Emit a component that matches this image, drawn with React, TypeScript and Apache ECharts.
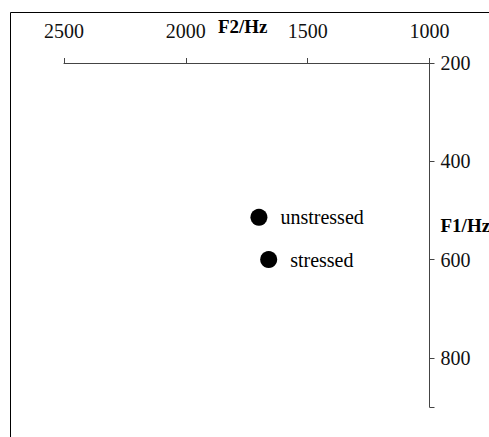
import React, { useEffect, useRef } from "react";
import * as echarts from "echarts";

const xTicks = [2500, 2000, 1500, 1000];
const yTicks = [200, 400, 600, 800];
const pointNames = ["unstressed", "stressed"];
const f2Values = [1700, 1660];
const f1Values = [514, 600];

const FONT = "'Liberation Serif', serif";

export default function App() {
  const ref = useRef<HTMLDivElement>(null);
  useEffect(() => {
    if (!ref.current) return;
    const chart = echarts.init(ref.current, null, { renderer: "svg" });
    chart.setOption({
      animation: false,
      backgroundColor: "#fff",
      textStyle: { fontFamily: FONT },
      grid: {
        left: 64,
        right: 59.5,
        top: 63,
        bottom: 30,
        containLabel: false,
        outerBoundsMode: "none",
      },
      graphic: [
        {
          type: "rect",
          shape: { x: 10.5, y: 12.5, width: 600, height: 600 },
          style: { fill: "none", stroke: "#000", lineWidth: 1 },
          silent: true,
          z: -1,
        },
      ],
      xAxis: {
        type: "value",
        position: "top",
        inverse: true,
        min: 1000,
        max: 2500,
        interval: 500,
        name: "F2/Hz",
        nameLocation: "middle",
        nameGap: 27,
        nameMoveOverlap: false,
        nameTextStyle: { fontFamily: FONT, fontWeight: "bold", fontSize: 19, color: "#000", padding: [0, 8, 0, 0] },
        axisLine: { show: true, onZero: false, lineStyle: { color: "#444", width: 1 } },
        axisTick: { show: true, inside: false, length: 5, lineStyle: { color: "#444" } },
        axisLabel: {
          fontFamily: FONT,
          fontWeight: "normal",
          fontSize: 20,
          color: "#111",
          margin: 22,
          formatter: (v: number) => (xTicks.includes(v) ? String(v) : ""),
        },
        splitLine: { show: false },
      },
      yAxis: {
        type: "value",
        position: "right",
        inverse: true,
        min: 200,
        max: 900,
        interval: 200,
        name: "F1/Hz",
        nameLocation: "middle",
        nameRotate: 0,
        nameGap: 11,
        nameMoveOverlap: false,
        nameTextStyle: {
          fontFamily: FONT,
          fontWeight: "bold",
          fontSize: 19,
          color: "#000",
          align: "left",
          verticalAlign: "bottom",
        },
        axisLine: { show: true, onZero: false, lineStyle: { color: "#444", width: 1 } },
        axisTick: { show: true, inside: false, length: 5, lineStyle: { color: "#444" } },
        axisLabel: {
          fontFamily: FONT,
          fontWeight: "normal",
          fontSize: 20,
          color: "#111",
          margin: 11,
          formatter: (v: number) => (yTicks.includes(v) ? String(v) : ""),
        },
        splitLine: { show: false },
      },
      series: [
        {
          type: "scatter",
          symbol: "circle",
          symbolSize: 17,
          itemStyle: { color: "#000", opacity: 1 },
          data: pointNames.map((n, i) => ({ name: n, value: [f2Values[i], f1Values[i]] })),
          label: {
            show: true,
            position: "right",
            distance: 13,
            formatter: (p: any) => p.name,
            fontFamily: FONT,
            fontSize: 20,
            color: "#000",
          },
        },
      ],
    });
    return () => chart.dispose();
  }, []);
  return (
    <div
      ref={ref}
      style={{ position: "fixed", left: 0, top: 0, width: 489, height: 437, background: "#fff" }}
    />
  );
}
